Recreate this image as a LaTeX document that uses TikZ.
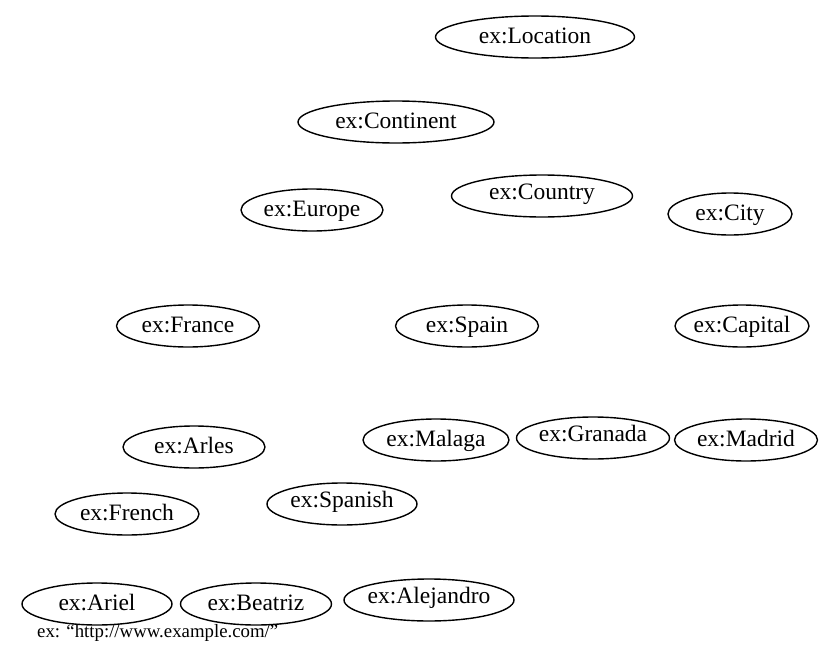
\documentclass[tikz,border=0pt]{standalone}
\usepackage{fontspec}
\setmainfont{Liberation Serif}
\usetikzlibrary{shapes.geometric}
% label of zero width, so the ellipse keeps the size given to it;
% the optional argument lifts the text inside its ellipse
\newcommand{\termlabel}[2][0pt]{\raisebox{#1}{\makebox[0pt]{#2}}}
\begin{document}
\begin{tikzpicture}[x=1pt,y=-1pt,
  term/.style={draw, ellipse, line width=1.4pt, inner sep=0pt,
    minimum height=42pt, text height=16pt, text depth=3pt,
    font=\fontsize{23.5}{26}\selectfont},
  note/.style={anchor=base west, inner sep=0pt, font=\fontsize{18.8}{22}\selectfont}]
  \useasboundingbox (0,0) rectangle (823,659);
  % classes
  \node[term, minimum width=199pt] (location)  at (535,37)  {\termlabel{ex:Location}};
  \node[term, minimum width=196pt] (continent) at (396,122) {\termlabel{ex:Continent}};
  \node[term, minimum width=142pt] (europe)    at (312,210) {\termlabel{ex:Europe}};
  \node[term, minimum width=181pt] (country)   at (542,196) {\termlabel[3pt]{ex:Country}};
  \node[term, minimum width=124pt] (city)      at (730,214) {\termlabel{ex:City}};
  % countries and capital
  \node[term, minimum width=143pt] (france)    at (188,326) {\termlabel{ex:France}};
  \node[term, minimum width=143pt] (spain)     at (467,326) {\termlabel{ex:Spain}};
  \node[term, minimum width=134pt] (capital)   at (742,326) {\termlabel{ex:Capital}};
  % cities
  \node[term, minimum width=142pt] (arles)     at (194,447) {\termlabel{ex:Arles}};
  \node[term, minimum width=146pt] (malaga)    at (436,440) {\termlabel{ex:Malaga}};
  \node[term, minimum width=153pt] (granada)   at (593,438) {\termlabel[3pt]{ex:Granada}};
  \node[term, minimum width=143pt] (madrid)    at (746,440) {\termlabel{ex:Madrid}};
  % languages
  \node[term, minimum width=144pt] (french)    at (127,514) {\termlabel{ex:French}};
  \node[term, minimum width=150pt] (spanish)   at (342,504) {\termlabel[3pt]{ex:Spanish}};
  % people
  \node[term, minimum width=150pt] (ariel)     at (97,604)  {\termlabel{ex:Ariel}};
  \node[term, minimum width=151pt] (beatriz)   at (256,604) {\termlabel{ex:Beatriz}};
  \node[term, minimum width=170pt] (alejandro) at (429,600) {\termlabel[3pt]{ex:Alejandro}};
  % namespace prefix
  \node[note] (prefix) at (37,637) {ex: “http://www.example.com/”};
\end{tikzpicture}
\end{document}
